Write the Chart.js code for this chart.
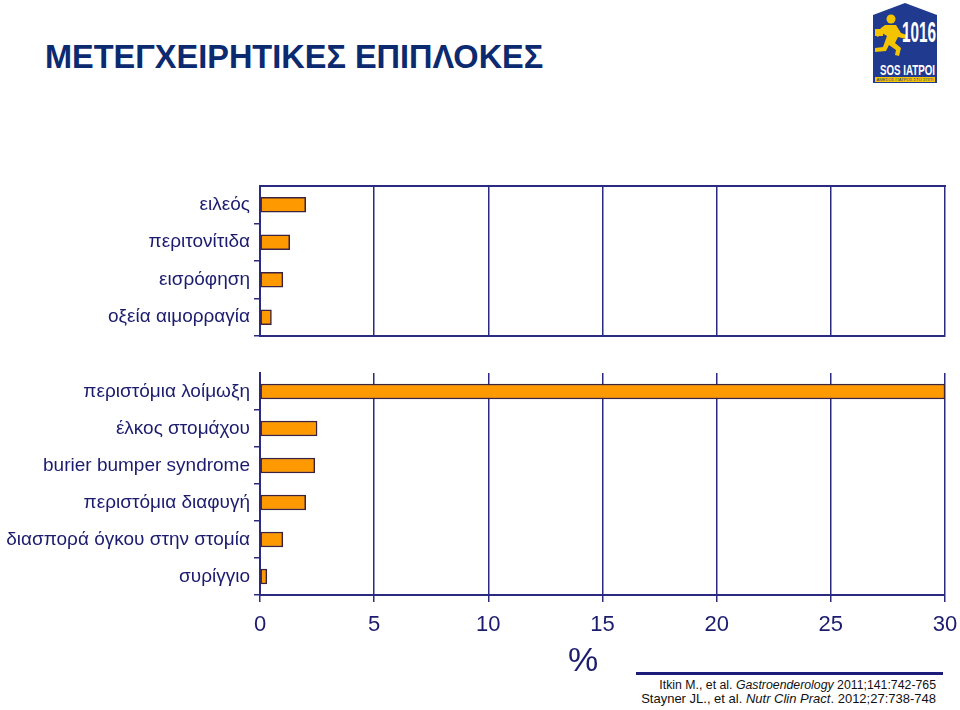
<!DOCTYPE html>
<html>
<head>
<meta charset="utf-8">
<script src="https://cdn.jsdelivr.net/npm/chart.js@4.4.1/dist/chart.umd.min.js"></script>
<style>
  body { margin: 0; background: #fff; font-family: "Liberation Sans", Arial, sans-serif; }
  #page { position: relative; width: 960px; height: 710px; overflow: hidden; }
  #title { position: absolute; left: 45px; top: 39px; font-size: 32.5px; font-weight: bold; color: #0b2a6f; white-space: nowrap; }
  #topWrap { position: absolute; left: 0; top: 180px; width: 960px; height: 165px; }
  #bottomWrap { position: absolute; left: 0; top: 365px; width: 960px; height: 300px; }
  #pct { position: absolute; left: 568px; top: 640px; font-size: 34px; color: #1c1c6e; }
  #refLine { position: absolute; left: 636px; top: 672px; width: 307px; height: 3px; background: #1c1c7a; }
  #refs { position: absolute; right: 24px; top: 678px; font-size: 13px; line-height: 14px; color: #111; text-align: right; }
  #refs .l1 { font-size: 12.3px; }
  #logo { position: absolute; left: 866px; top: 0; }
</style>
</head>
<body>
<div id="page">
  <div id="title">ΜΕΤΕΓΧΕΙΡΗΤΙΚΕΣ ΕΠΙΠΛΟΚΕΣ</div>

  <svg id="logo" width="78" height="86" viewBox="0 0 78 86">
    <polygon points="7,15 39,3 71,15 71,83 7,83" fill="#1f3a8f"/>
    <!-- runner -->
    <circle cx="25" cy="19" r="4.5" fill="#f5c400"/>
    <path d="M19,25 L30,25 L35,33 L41,35 L40,39 L32,37 L29,43 L35,48 L33,56 L29,55 L30,50 L23,45 L20,51 L9,52 L9,48 L17,47 L21,36 L16,33 L12,37 L9,35 L15,28 Z" fill="#f5c400"/>
    <rect x="9" y="29" width="8" height="7" fill="#f5c400"/>
    <text x="36" y="42" font-family="Liberation Sans, Arial" font-weight="bold" font-size="29" fill="#fff" textLength="34" lengthAdjust="spacingAndGlyphs">1016</text>
    <text x="14" y="75" font-family="Liberation Sans, Arial" font-weight="bold" font-size="14" fill="#fff" textLength="55" lengthAdjust="spacingAndGlyphs">SOS IATPOI</text>
    <rect x="9" y="77" width="60" height="5" fill="#f5c400"/>
    <text x="39" y="81.3" text-anchor="middle" font-family="Liberation Sans, Arial" font-size="4.4" fill="#1f3a8f" textLength="57" lengthAdjust="spacingAndGlyphs">ΑΜΕΣΟΣ ΓΙΑΤΡΟΣ ΣΤΟ ΣΠΙΤΙ</text>
  </svg>

  <div id="topWrap"><canvas id="topChart"></canvas></div>
  <div id="bottomWrap"><canvas id="bottomChart"></canvas></div>

  <div id="pct">%</div>
  <div id="refLine"></div>
  <div id="refs">
    <span class="l1">Itkin M., et al. <i>Gastroenderology</i> 2011;141:742-765</span><br>
    Stayner JL., et al. <i>Nutr Clin Pract</i>. 2012;27:738-748
  </div>
</div>

<script>
const topLabels = ["ειλεός", "περιτονίτιδα", "εισρόφηση", "οξεία αιμορραγία"];
const topValues = [2.0, 1.3, 1.0, 0.5];

const bottomLabels = ["περιστόμια λοίμωξη", "έλκος στομάχου", "burier bumper syndrome", "περιστόμια διαφυγή", "διασπορά όγκου στην στομία", "συρίγγιο"];
const bottomValues = [30, 2.5, 2.4, 2.0, 1.0, 0.3];

const xMin = 0;
const xMax = 30;
const xStep = 5;

const NAVY = "#2a2a80";
const LABEL = "#1c1c6e";
const FONT = "'Liberation Sans', Arial, sans-serif";

Chart.defaults.animation = false;
Chart.defaults.font.family = FONT;

// keep the plot area exactly where the layout puts it
function noPad(s) {
    s.paddingTop = 0; s.paddingBottom = 0;
    s.paddingLeft = 0; s.paddingRight = 0;
}

function barDataset(values) {
    return {
        data: values,
        backgroundColor: "#ff9900",
        borderColor: "#3a2240",
        borderWidth: 1.5,
        borderSkipped: false,
        barThickness: 15
    };
}

function yAxis() {
    return {
        type: "category",
        offset: true,
        afterFit: s => { s.width = 260; noPad(s); },
        border: { color: NAVY, width: 2 },
        grid: {
            offset: true,
            drawOnChartArea: false,
            tickLength: 6,
            lineWidth: 1.5,
            tickColor: ctx => ctx.index === 0 ? "rgba(0,0,0,0)" : NAVY
        },
        ticks: { color: LABEL, font: { size: 19 }, padding: 4 }
    };
}

// top panel
new Chart(document.getElementById("topChart"), {
    type: "bar",
    data: { labels: topLabels, datasets: [barDataset(topValues)] },
    options: {
        indexAxis: "y",
        responsive: true,
        maintainAspectRatio: false,
        layout: { padding: { top: 6, right: 15, left: 0, bottom: 0 } },
        plugins: { legend: { display: false }, tooltip: { enabled: false } },
        scales: {
            x: {
                type: "linear", min: xMin, max: xMax,
                afterFit: s => { s.height = 9; noPad(s); },
                border: { color: NAVY, width: 2 },
                grid: { color: NAVY, lineWidth: 1.5, drawTicks: false },
                ticks: { display: false, stepSize: xStep }
            },
            x2: {
                type: "linear", position: "top", min: xMin, max: xMax,
                afterFit: s => { s.height = 0; noPad(s); },
                border: { color: NAVY, width: 2 },
                grid: { drawOnChartArea: false, drawTicks: false },
                ticks: { display: false }
            },
            y: yAxis()
        }
    }
});

// bottom panel
new Chart(document.getElementById("bottomChart"), {
    type: "bar",
    data: { labels: bottomLabels, datasets: [barDataset(bottomValues)] },
    options: {
        indexAxis: "y",
        responsive: true,
        maintainAspectRatio: false,
        layout: { padding: { top: 8, right: 15, left: 0, bottom: 0 } },
        plugins: { legend: { display: false }, tooltip: { enabled: false } },
        scales: {
            x: {
                type: "linear", min: xMin, max: xMax,
                afterFit: s => { s.height = 70; noPad(s); },
                border: { color: NAVY, width: 2 },
                grid: { color: NAVY, lineWidth: 1.5, tickLength: 7 },
                ticks: { stepSize: xStep, color: LABEL, font: { size: 22 }, padding: 10 }
            },
            y: yAxis()
        }
    }
});
</script>
</body>
</html>
